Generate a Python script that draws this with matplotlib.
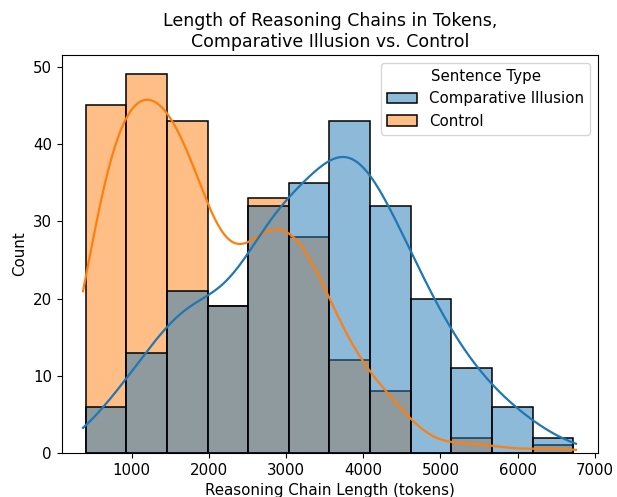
import numpy as np
import pandas as pd
import matplotlib
matplotlib.use("Agg")
import matplotlib.pyplot as plt
import seaborn as sns

plt.rcParams['font.size'] = 10.8

# bin edges (tokens) and counts
bin_edges = list(np.linspace(404, 6720, 13))
illusion_counts = [6, 13, 21, 19, 32, 35, 43, 32, 20, 11, 6, 2]
control_counts = [45, 49, 43, 19, 33, 28, 12, 8, 0, 2, 0, 1]

centers = [(a + b) / 2 for a, b in zip(bin_edges[:-1], bin_edges[1:])]
df = pd.DataFrame({
    'length': centers + centers,
    'count': illusion_counts + control_counts,
    'Sentence Type': ['Comparative Illusion'] * 12 + ['Control'] * 12,
})

fig, ax = plt.subplots(figsize=(6.17, 4.97), dpi=100)
fig.subplots_adjust(left=0.1, right=0.969, bottom=0.0885, top=0.889)

sns.histplot(data=df, x='length', weights='count', hue='Sentence Type',
             bins=bin_edges, kde=True, edgecolor='black', linewidth=1.1,
             kde_kws={'cut': 0.66, 'bw_adjust': 0.46}, line_kws={'linewidth': 1.6}, ax=ax)

ax.set_xlim(93, 7039)
ax.set_ylim(0, 51.5)
ax.set_xticks([1000, 2000, 3000, 4000, 5000, 6000, 7000])
ax.set_xlabel('Reasoning Chain Length (tokens)')
ax.set_ylabel('Count')
ax.set_title('Length of Reasoning Chains in Tokens,\nComparative Illusion vs. Control', fontsize=12.5)

fig.savefig('out.png', dpi=100)
